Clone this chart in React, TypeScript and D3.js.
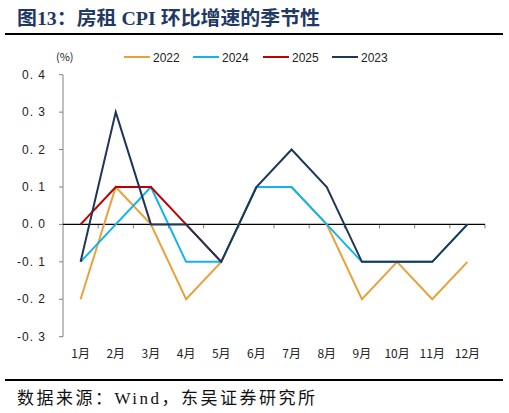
import React from "react";
import * as d3 from "d3";

const months = ["1月", "2月", "3月", "4月", "5月", "6月", "7月", "8月", "9月", "10月", "11月", "12月"];
const yTicks = [0.4, 0.3, 0.2, 0.1, 0.0, -0.1, -0.2, -0.3];

const v2022 = [-0.2, 0.1, 0.0, -0.2, -0.1, 0.1, 0.1, 0.0, -0.2, -0.1, -0.2, -0.1];
const v2024 = [-0.1, 0.0, 0.1, -0.1, -0.1, 0.1, 0.1, 0.0, -0.1, -0.1, -0.1, 0.0];
const v2025 = [0.0, 0.1, 0.1, 0.0, -0.1];
const v2023 = [-0.1, 0.3, 0.0, 0.0, -0.1, 0.1, 0.2, 0.1, -0.1, -0.1, -0.1, 0.0];

const seriesNames = ["2022", "2024", "2025", "2023"];
const seriesColors = ["#E9A23B", "#10B4EC", "#C00000", "#1F3657"];
const seriesValues = [v2022, v2024, v2025, v2023];

export default function App() {
  const W = 509, H = 413;
  const x = d3.scaleBand<string>().domain(months).range([63, 485]).padding(0);
  const y = d3.scaleLinear().domain([-0.3, 0.4]).range([336.7, 74.7]);
  const line = d3
    .line<number>()
    .x((_, i) => (x(months[i]) as number) + x.bandwidth() / 2)
    .y((d) => y(d));
  const sans = "'Liberation Sans', Arial, sans-serif";
  const cjk = "'Noto Sans CJK SC', sans-serif";
  const serif = "'Liberation Serif', 'Noto Sans CJK SC', serif";
  const y0 = y(0);
  const legendX = [124, 193, 263, 332];
  return (
    <svg width={W} height={H} style={{ position: "fixed", left: 0, top: 0, background: "#fff" }}>
      <rect width={W} height={H} fill="#fff" />
      <text x={17} y={25} fontFamily={serif} fontWeight="bold" fontSize={19} fill="#1F3864" textLength={303} lengthAdjust="spacingAndGlyphs">
        图13：房租 CPI 环比增速的季节性
      </text>
      <line x1={5} x2={503} y1={34} y2={34} stroke="#000" strokeWidth={2} />
      <text x={56} y={61} fontFamily={cjk} fontSize={11} fill="#222">(%)</text>
      {seriesNames.map((n, i) => (
        <g key={n}>
          <line x1={legendX[i]} x2={legendX[i] + 26} y1={57} y2={57} stroke={seriesColors[i]} strokeWidth={2} />
          <text x={legendX[i] + 29} y={61.5} fontFamily={sans} fontSize={12} fill="#222">{n}</text>
        </g>
      ))}
      {/* y axis */}
      <line x1={63} x2={63} y1={y(0.4)} y2={y(-0.3)} stroke="#808080" strokeWidth={1} />
      {yTicks.map((t) => (
        <g key={t}>
          <line x1={59} x2={63} y1={y(t)} y2={y(t)} stroke="#808080" />
          <text x={46} y={y(t) + 4} textAnchor="end" fontFamily={sans} fontSize={12} letterSpacing={1} fill="#222">
            {t.toFixed(1).replace(".", ". ")}
          </text>
        </g>
      ))}
      {/* x axis */}
      {months.map((m) => (
        <line key={"t" + m} x1={(x(m) as number) + x.bandwidth()} x2={(x(m) as number) + x.bandwidth()} y1={y0} y2={y0 + 4} stroke="#808080" />
      ))}
      <line x1={63} x2={485} y1={y0} y2={y0} stroke="#000" strokeWidth={1.2} />
      {months.map((m) => (
        <text key={m} x={(x(m) as number) + x.bandwidth() / 2} y={358} textAnchor="middle" fontFamily={cjk} fontSize={12} fill="#222">
          {m}
        </text>
      ))}
      {seriesValues.map((vals, i) => (
        <path key={seriesNames[i]} d={line(vals) || ""} fill="none" stroke={seriesColors[i]} strokeWidth={2} strokeLinejoin="miter" />
      ))}
      <line x1={5} x2={503} y1={380} y2={380} stroke="#000" strokeWidth={2} />
      <text x={17} y={404} fontFamily={serif} fontSize={17} fill="#111" letterSpacing={2.5}>
        数据来源：Wind，东吴证券研究所
      </text>
    </svg>
  );
}
